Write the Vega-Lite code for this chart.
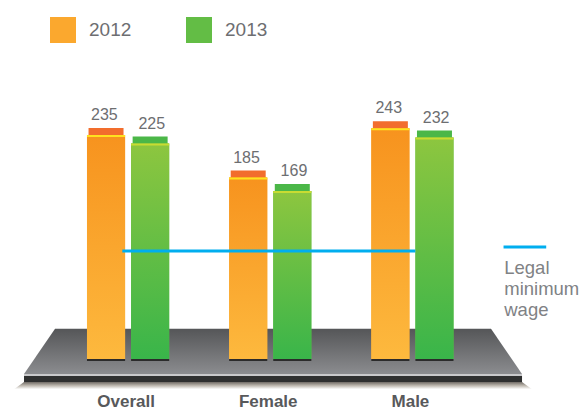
{
"$schema":"https://vega.github.io/schema/vega-lite/v6.json",
"width":579,"height":407,"padding":0,"autosize":{"type":"none"},
"background":"white",
"config":{"view":{"stroke":null},"font":"Liberation Sans"},
"datasets":{
"wages":[
{"group":"Overall","year":"2012","value":235},
{"group":"Overall","year":"2013","value":225},
{"group":"Female","year":"2012","value":185},
{"group":"Female","year":"2013","value":169},
{"group":"Male","year":"2012","value":243},
{"group":"Male","year":"2013","value":232}],
"floor":[
{"pos":-0.731,"top":-46,"bottom":-46},
{"pos":-0.513,"top":7,"bottom":-46},
{"pos":2.552,"top":7,"bottom":-46},
{"pos":2.77,"top":-46,"bottom":-46}],
"edge":[{"from":-0.731,"to":2.77}],
"shadow":[
{"pos":-0.801,"top":-64,"bottom":-64},
{"pos":-0.731,"top":-55.5,"bottom":-64},
{"pos":2.77,"top":-55.5,"bottom":-64},
{"pos":2.84,"top":-64,"bottom":-64}],
"wage":[{"from":-0.04,"to":2.02,"level":98.6}],
"wageKey":[{"from":2.64,"to":2.94,"level":103.3}],
"wageText":[
{"pos":2.645,"level":79,"t":"Legal"},
{"pos":2.645,"level":54,"t":"minimum"},
{"pos":2.645,"level":29,"t":"wage"}]
},
"layer":[
{"data":{"name":"shadow"},
 "mark":{"type":"area","color":{"gradient":"linear","x1":0,"y1":0,"x2":0,"y2":1,"stops":[{"offset":0,"color":"#6f6a64"},{"offset":0.5,"color":"#bdb7ae"},{"offset":1,"color":"#ffffff"}]}},
 "encoding":{"x":{"field":"pos","type":"quantitative","scale":{"domain":[-0.8998,3.1705],"range":[0,579],"nice":false,"zero":false},"axis":null},
 "y":{"field":"top","type":"quantitative","stack":null,"scale":{"domain":[-84.97,393.85],"range":[407,0],"nice":false,"zero":false},"axis":null},"y2":{"field":"bottom"}}},
{"data":{"name":"floor"},
 "mark":{"type":"area","color":{"gradient":"linear","x1":0,"y1":0,"x2":0,"y2":1,"stops":[{"offset":0,"color":"#555658"},{"offset":1,"color":"#8b8c8f"}]}},
 "encoding":{"x":{"field":"pos","type":"quantitative","scale":{"domain":[-0.8998,3.1705],"range":[0,579],"nice":false,"zero":false},"axis":null},
 "y":{"field":"top","type":"quantitative","stack":null,"axis":null},"y2":{"field":"bottom"}}},
{"data":{"name":"edge"},
 "mark":{"type":"rect","color":"#c9c9cb"},
 "encoding":{"x":{"field":"from","type":"quantitative","scale":{"domain":[-0.8998,3.1705],"range":[0,579],"nice":false,"zero":false},"axis":null},"x2":{"field":"to"},
 "y":{"datum":-46,"axis":null},"y2":{"datum":-48.5}}},
{"data":{"name":"edge"},
 "mark":{"type":"rect","color":"#2f3030"},
 "encoding":{"x":{"field":"from","type":"quantitative","scale":{"domain":[-0.8998,3.1705],"range":[0,579],"nice":false,"zero":false},"axis":null},"x2":{"field":"to"},
 "y":{"datum":-48.5,"axis":null},"y2":{"datum":-55.5}}},
{"data":{"name":"wages"},
 "mark":{"type":"bar","y2Offset":2,"color":"#2b2b2b"},
 "encoding":{
  "x":{"field":"group","type":"nominal","sort":["Overall","Female","Male"],"scale":{"range":[57,483.5],"paddingInner":0,"paddingOuter":0},"axis":null},
  "xOffset":{"field":"year","type":"nominal","scale":{"paddingInner":0.136,"paddingOuter":0.68}},
  "y":{"datum":-28.5,"axis":null},"y2":{"datum":-28.5}}},
{"data":{"name":"wages"},
 "mark":{"type":"bar","yOffset":-7,"width":35},
 "encoding":{
  "x":{"field":"group","type":"nominal","sort":["Overall","Female","Male"],"scale":{"range":[57,483.5],"paddingInner":0,"paddingOuter":0},"axis":null},
  "xOffset":{"field":"year","type":"nominal","scale":{"paddingInner":0.136,"paddingOuter":0.68}},
  "y":{"field":"value","type":"quantitative","stack":null,"axis":null},"y2":{"datum":-28.5},
  "color":{"condition":{"test":"datum.year==='2012'","value":"#f26d2d"},"value":"#4bb748"}}},
{"data":{"name":"wages"},
 "mark":{"type":"bar"},
 "encoding":{
  "x":{"field":"group","type":"nominal","sort":["Overall","Female","Male"],"scale":{"range":[57,483.5],"paddingInner":0,"paddingOuter":0},
   "axis":{"title":null,"orient":"bottom","domain":false,"ticks":false,"labelAngle":0,"labelFontSize":17,"labelFontWeight":"bold","labelColor":"#58595b","labelPadding":-14,"labelOffset":-2,"labelFont":"Liberation Sans"}},
  "xOffset":{"field":"year","type":"nominal","scale":{"paddingInner":0.136,"paddingOuter":0.68}},
  "y":{"field":"value","type":"quantitative","stack":null,"axis":null},"y2":{"datum":-28.5},
  "color":{"field":"year","type":"nominal","scale":{"domain":["2012","2013"],"range":["#fba82e","#63bd45"]},
   "legend":{"title":null,"orient":"none","legendX":50,"legendY":17,"direction":"horizontal","columns":2,"symbolType":"square","symbolSize":676,"symbolStrokeWidth":0,"labelFontSize":19,"labelColor":"#6d6e71","labelFont":"Liberation Sans","labelOffset":13,"columnPadding":54,"padding":0}}}},
{"data":{"name":"wages"},
 "transform":[{"filter":"datum.year==='2012'"}],
 "mark":{"type":"bar","color":{"gradient":"linear","x1":0,"y1":0,"x2":0,"y2":1,"stops":[{"offset":0,"color":"#f7931e"},{"offset":1,"color":"#fdb93e"}]}},
 "encoding":{
  "x":{"field":"group","type":"nominal","sort":["Overall","Female","Male"],"scale":{"range":[57,483.5],"paddingInner":0,"paddingOuter":0},"axis":null},
  "xOffset":{"field":"year","type":"nominal","scale":{"domain":["2012","2013"],"paddingInner":0.136,"paddingOuter":0.68}},
  "y":{"field":"value","type":"quantitative","stack":null,"axis":null},"y2":{"datum":-28.5}}},
{"data":{"name":"wages"},
 "transform":[{"filter":"datum.year==='2013'"}],
 "mark":{"type":"bar","color":{"gradient":"linear","x1":0,"y1":0,"x2":0,"y2":1,"stops":[{"offset":0,"color":"#8dc63f"},{"offset":1,"color":"#39b54a"}]}},
 "encoding":{
  "x":{"field":"group","type":"nominal","sort":["Overall","Female","Male"],"scale":{"range":[57,483.5],"paddingInner":0,"paddingOuter":0},"axis":null},
  "xOffset":{"field":"year","type":"nominal","scale":{"domain":["2012","2013"],"paddingInner":0.136,"paddingOuter":0.68}},
  "y":{"field":"value","type":"quantitative","stack":null,"axis":null},"y2":{"datum":-28.5}}},
{"data":{"name":"wages"},
 "mark":{"type":"bar","y2Offset":2},
 "encoding":{
  "x":{"field":"group","type":"nominal","sort":["Overall","Female","Male"],"scale":{"range":[57,483.5],"paddingInner":0,"paddingOuter":0},"axis":null},
  "xOffset":{"field":"year","type":"nominal","scale":{"paddingInner":0.136,"paddingOuter":0.68}},
  "y":{"field":"value","type":"quantitative","stack":null,"axis":null},"y2":{"field":"value"},
  "color":{"condition":{"test":"datum.year==='2012'","value":"#ffe21f"},"value":"#c8dc32"}}},
{"data":{"name":"wages"},
 "mark":{"type":"text","dy":-15,"fontSize":16,"color":"#6d6e71","baseline":"alphabetic"},
 "encoding":{
  "x":{"field":"group","type":"nominal","sort":["Overall","Female","Male"],"scale":{"range":[57,483.5],"paddingInner":0,"paddingOuter":0},"axis":null},
  "xOffset":{"field":"year","type":"nominal","scale":{"type":"point","padding":1.114}},
  "y":{"field":"value","type":"quantitative","stack":null,"axis":null},
  "text":{"field":"value","type":"quantitative"}}},
{"data":{"name":"wage"},
 "mark":{"type":"rule","color":"#00aeef","strokeWidth":3},
 "encoding":{"x":{"field":"from","type":"quantitative","scale":{"domain":[-0.8998,3.1705],"range":[0,579],"nice":false,"zero":false},"axis":null},"x2":{"field":"to"},
 "y":{"field":"level","type":"quantitative","axis":null}}},
{"data":{"name":"wageKey"},
 "mark":{"type":"rule","color":"#00aeef","strokeWidth":3},
 "encoding":{"x":{"field":"from","type":"quantitative","scale":{"domain":[-0.8998,3.1705],"range":[0,579],"nice":false,"zero":false},"axis":null},"x2":{"field":"to"},
 "y":{"field":"level","type":"quantitative","axis":null}}},
{"data":{"name":"wageText"},
 "mark":{"type":"text","align":"left","baseline":"middle","fontSize":18.5,"color":"#808285"},
 "encoding":{"x":{"field":"pos","type":"quantitative","scale":{"domain":[-0.8998,3.1705],"range":[0,579],"nice":false,"zero":false},"axis":null},
 "y":{"field":"level","type":"quantitative","axis":null},"text":{"field":"t","type":"nominal"}}}
],
"resolve":{"scale":{"x":"independent","xOffset":"independent"},"axis":{"x":"independent"}}
}
